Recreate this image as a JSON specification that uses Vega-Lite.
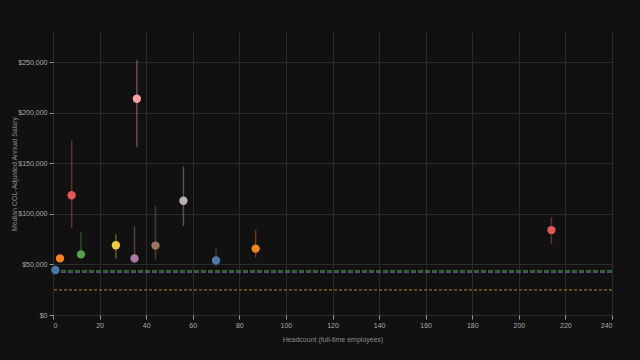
{
  "$schema": "https://vega.github.io/schema/vega-lite/v6.json",
  "width": 559,
  "height": 283,
  "autosize": {"type": "none"},
  "padding": {"left": 53, "top": 32, "right": 28, "bottom": 45},
  "background": "#111111",
  "config": {
    "view": {"stroke": null},
    "axis": {
      "gridColor": "#2a2a2a",
      "gridWidth": 1,
      "domain": false,
      "tickColor": "#999999",
      "tickSize": 4,
      "labelColor": "#aaaaaa",
      "labelFontSize": 7,
      "labelFont": "Liberation Sans",
      "titleColor": "#8a8a8a",
      "titleFontSize": 7,
      "titleFont": "Liberation Sans",
      "titleFontWeight": "normal"
    }
  },
  "datasets": {
    "pts": [
      {"g": "A", "hc": 1, "med": 44500, "lo": 44500, "hi": 44500},
      {"g": "B", "hc": 3, "med": 56000, "lo": 56000, "hi": 56000},
      {"g": "C", "hc": 8, "med": 118500, "lo": 86000, "hi": 173000},
      {"g": "E", "hc": 12, "med": 60000, "lo": 58000, "hi": 82000},
      {"g": "F", "hc": 27, "med": 69000, "lo": 56000, "hi": 80000},
      {"g": "G", "hc": 35, "med": 56000, "lo": 51000, "hi": 88000},
      {"g": "H", "hc": 36, "med": 214000, "lo": 166000, "hi": 252000},
      {"g": "I", "hc": 44, "med": 68700, "lo": 55000, "hi": 108000},
      {"g": "J", "hc": 56, "med": 113000, "lo": 88000, "hi": 147000},
      {"g": "K", "hc": 70, "med": 54000, "lo": 48000, "hi": 66000},
      {"g": "L", "hc": 87, "med": 65700, "lo": 57000, "hi": 84000},
      {"g": "M", "hc": 214, "med": 84000, "lo": 70000, "hi": 97000}
    ],
    "refs": [
      {"r": "green", "v": 43700},
      {"r": "purple", "v": 42300},
      {"r": "orange", "v": 24800}
    ]
  },
  "layer": [
    {
      "data": {"name": "refs"},
      "transform": [{"filter": "datum.r == 'purple'"}],
      "mark": {"type": "rule", "strokeDash": [5, 2], "strokeWidth": 1.2, "opacity": 0.8, "color": "#7f78b0"},
      "encoding": {
        "y": {"field": "v", "type": "quantitative"}
      }
    },
    {
      "data": {"name": "refs"},
      "transform": [{"filter": "datum.r == 'green'"}],
      "mark": {"type": "rule", "strokeDash": [5, 2], "strokeWidth": 1.2, "opacity": 0.8, "color": "#54a24b"},
      "encoding": {
        "y": {"field": "v", "type": "quantitative"}
      }
    },
    {
      "data": {"name": "refs"},
      "transform": [{"filter": "datum.r == 'orange'"}],
      "mark": {"type": "rule", "strokeDash": [3, 2], "strokeWidth": 1.2, "opacity": 0.75, "color": "#c8852e"},
      "encoding": {
        "y": {"field": "v", "type": "quantitative"}
      }
    },
    {
      "data": {"name": "pts"},
      "mark": {"type": "rule", "strokeWidth": 1.5, "opacity": 0.4},
      "encoding": {
        "x": {"field": "hc", "type": "quantitative"},
        "y": {"field": "lo", "type": "quantitative"},
        "y2": {"field": "hi"},
        "color": {"field": "g", "type": "nominal", "legend": null}
      }
    },
    {
      "data": {"name": "pts"},
      "mark": {"type": "circle", "size": 70, "opacity": 1},
      "encoding": {
        "x": {
          "field": "hc", "type": "quantitative",
          "title": "Headcount (full-time employees)",
          "scale": {"domain": [0, 240], "nice": false},
          "axis": {"values": [0,20,40,60,80,100,120,140,160,180,200,220,240], "titlePadding": 7}
        },
        "y": {
          "field": "med", "type": "quantitative",
          "title": "Median COL-Adjusted Annual Salary",
          "scale": {"domain": [0, 280000], "nice": false},
          "axis": {"values": [0,50000,100000,150000,200000,250000], "format": "$,.0f", "titlePadding": 0}
        },
        "color": {
          "field": "g", "type": "nominal", "legend": null,
          "scale": {
            "domain": ["A","B","C","E","F","G","H","I","J","K","L","M"],
            "range": ["#4c78a8","#f58518","#e45756","#54a24b","#eeca3b","#b279a2","#ff9da6","#9d755d","#bab0ac","#4c78a8","#f58518","#e45756"]
          }
        }
      }
    }
  ]
}
